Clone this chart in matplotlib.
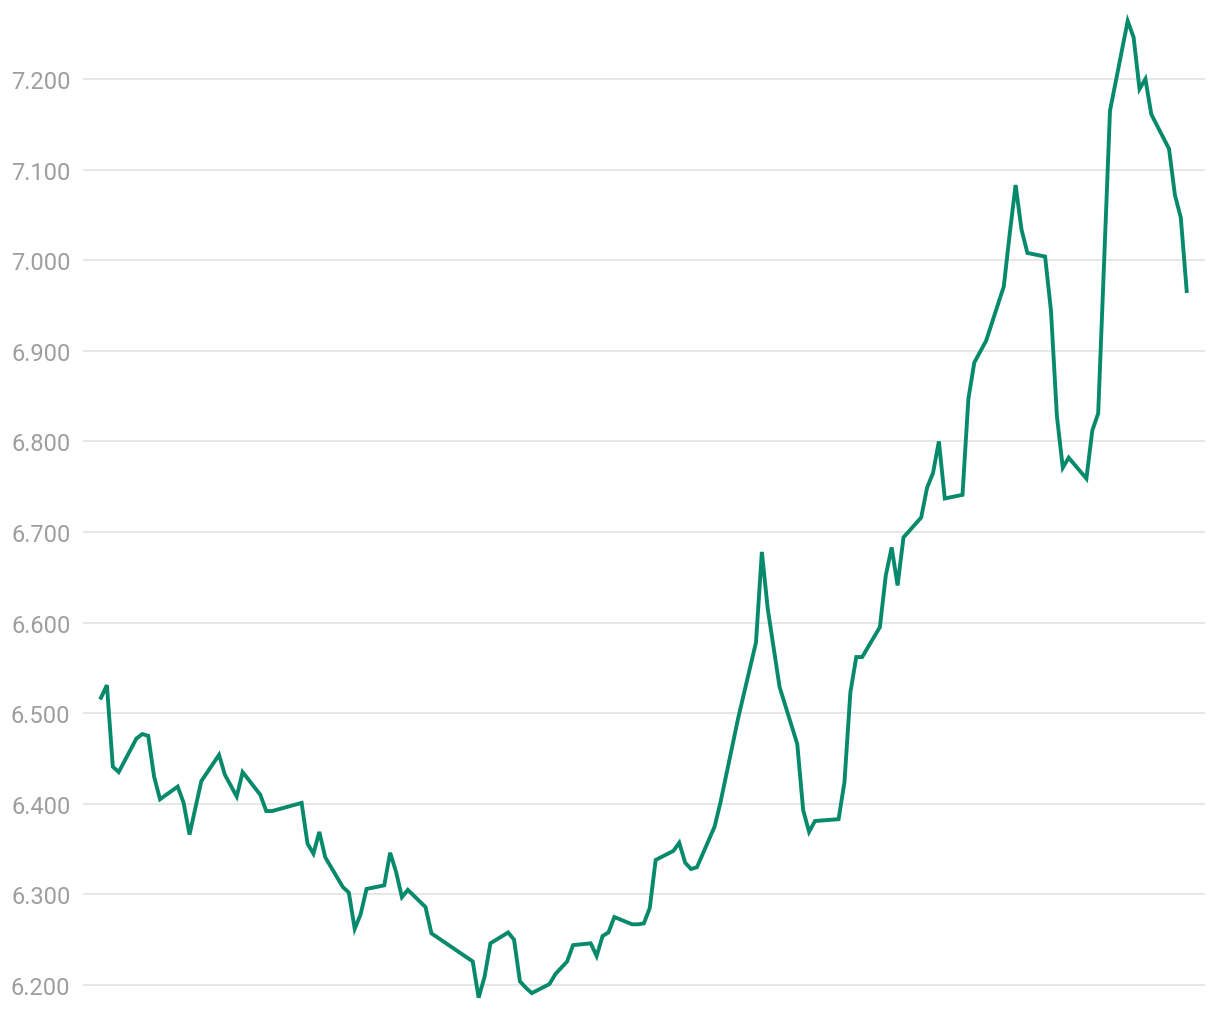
import numpy as np
import matplotlib.pyplot as plt

# Day offsets (trading days with gaps) and values
days = [0, 1, 2, 3, 6, 7, 8, 9, 10, 13, 14, 15, 17, 20, 21, 23, 24, 27, 28, 29,
        34, 35, 36, 37, 38, 41, 42, 43, 44, 45, 48, 49, 50, 51, 52, 55, 56,
        63, 64, 65, 66, 69, 70, 71, 72, 73, 76, 77, 79, 80, 83, 84, 85, 86, 87,
        90, 91, 92, 93, 94, 97, 98, 99, 100, 101, 104, 105, 106, 108, 111, 112,
        113, 115, 118, 119, 120, 121, 125, 126, 127, 128, 129, 132, 133, 134,
        135, 136, 139, 140, 141, 142, 143, 146, 147, 148, 150, 153, 154, 155,
        156, 157, 160, 161, 162, 163, 164, 167, 168, 169, 171, 172, 174, 175,
        176, 177, 178, 181, 182, 183, 184]
values = [6.517, 6.531, 6.441, 6.435, 6.472, 6.477, 6.475, 6.430, 6.405, 6.419,
          6.401, 6.366, 6.425, 6.454, 6.432, 6.408, 6.435, 6.410, 6.392, 6.392,
          6.401, 6.356, 6.345, 6.369, 6.341, 6.308, 6.302, 6.262, 6.278, 6.306,
          6.310, 6.346, 6.325, 6.297, 6.305, 6.286, 6.257,
          6.226, 6.186, 6.209, 6.246, 6.258, 6.250, 6.204, 6.197, 6.191,
          6.201, 6.212, 6.226, 6.244, 6.246, 6.232, 6.254, 6.258, 6.275,
          6.267, 6.267, 6.268, 6.285, 6.338, 6.348, 6.357, 6.335, 6.328, 6.330,
          6.375, 6.402, 6.433, 6.495, 6.578, 6.678, 6.615, 6.529, 6.466, 6.393,
          6.369, 6.381, 6.383, 6.424, 6.523, 6.562, 6.562, 6.595, 6.652, 6.683,
          6.641, 6.694, 6.716, 6.749, 6.765, 6.800, 6.737, 6.741, 6.847, 6.887,
          6.911, 6.971, 7.029, 7.083, 7.034, 7.008, 7.004, 6.944, 6.828, 6.771,
          6.782, 6.759, 6.812, 6.831, 7.165, 7.198, 7.264, 7.246, 7.189, 7.200,
          7.161, 7.123, 7.072, 7.047, 6.966]

yticks = np.round(np.arange(6.2, 7.21, 0.1), 1)

fig = plt.figure(figsize=(12.2, 10.2), dpi=100)
ax = fig.add_axes([83 / 1220, 0, (1205 - 83) / 1220, 1])

ax.plot(days, values, color='#078a6c', linewidth=2.8, solid_joinstyle='miter')

ax.set_xlim(-3.05, 187.1)
ax.set_ylim(6.2 - 34 / 906, 7.2 + 80 / 906)
ax.set_yticks(yticks)
ax.set_yticklabels([f'{v:.3f}' for v in yticks], fontfamily='Roboto',
                   fontsize=17, color='#9e9e9e')
ax.set_xticks([])
ax.tick_params(axis='y', length=0, pad=9)
ax.grid(axis='y', color='#e3e3e3', linewidth=1.2)
ax.set_axisbelow(True)
for s in ax.spines.values():
    s.set_visible(False)

fig.savefig('out.png', dpi=100)
